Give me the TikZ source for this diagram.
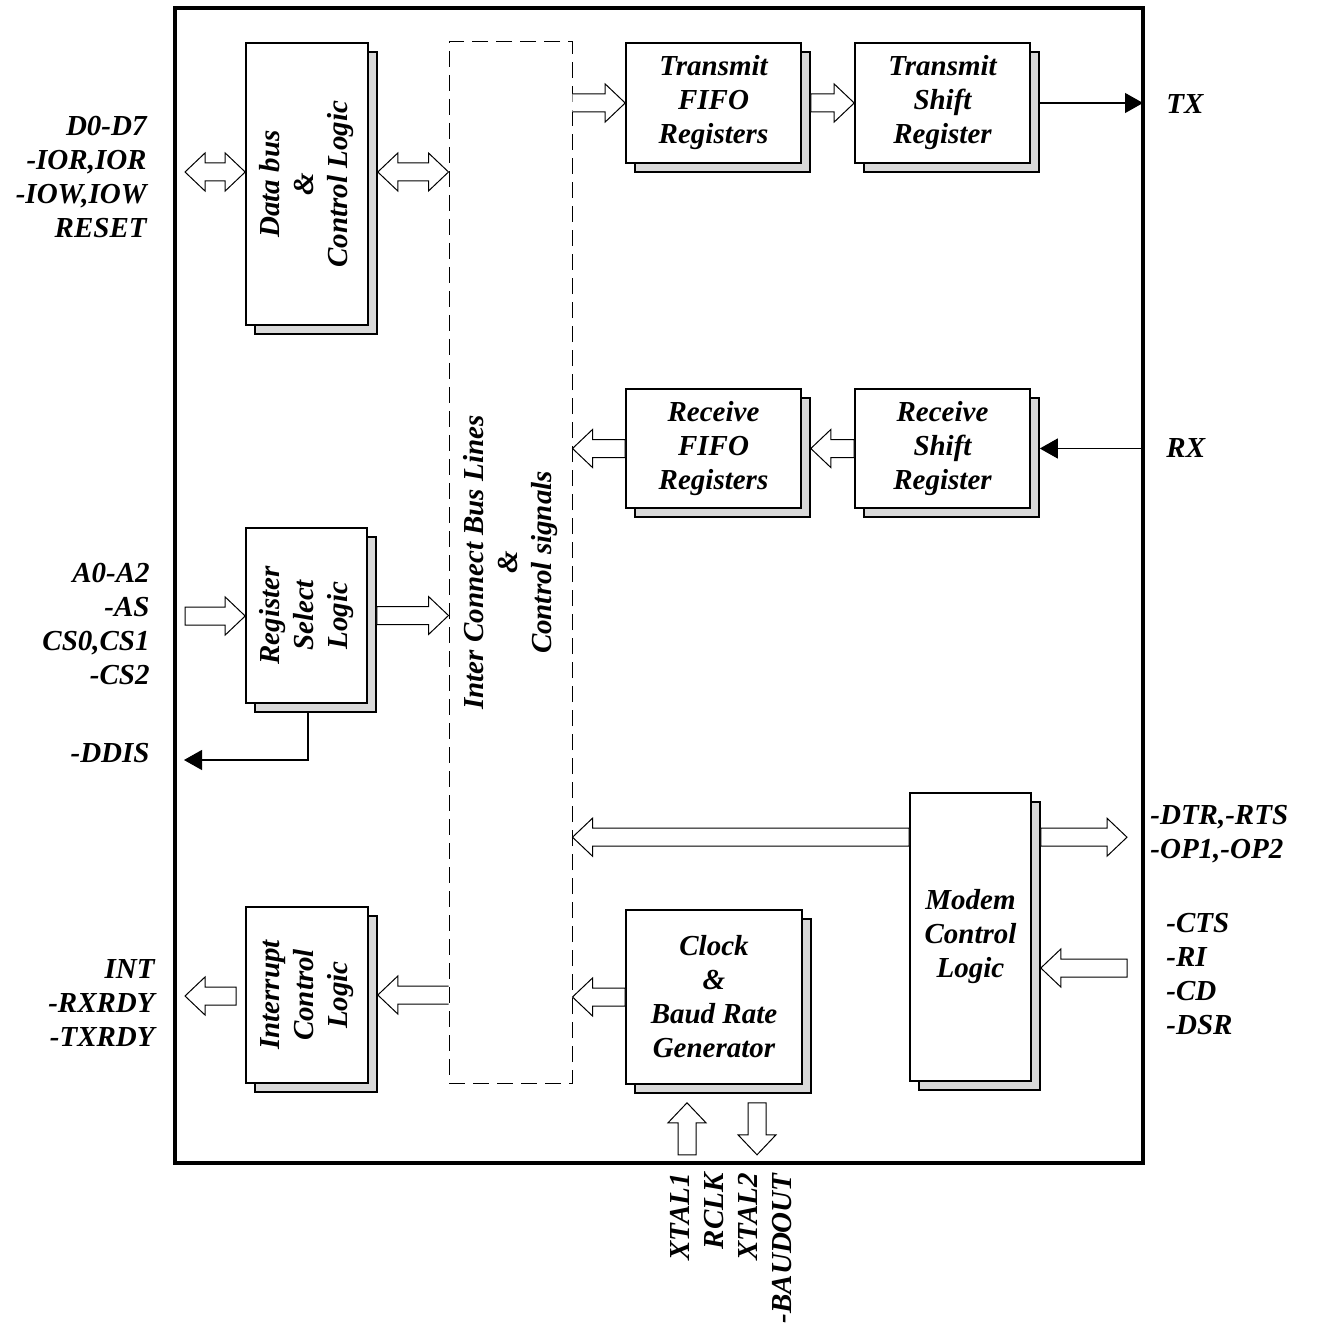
\documentclass[tikz,border=0pt]{standalone}
\usepackage{fontspec}
\setmainfont{Liberation Serif}
\usetikzlibrary{arrows.meta,calc}

% hollow block arrows
\newcommand\shw{4.5pt}
\newcommand\hdw{9.5pt}
\newcommand\hdlen{10pt}
\newcommand\bkarrow[2]{%
  \coordinate (ba) at (#1);
  \coordinate (bb) at (#2);
  \coordinate (bh) at ($(bb)!\hdlen!(ba)$);
  \filldraw[blockarrow] ($(ba)!\shw!90:(bb)$) -- ($(bh)!\shw!90:(bb)$) -- ($(bh)!\hdw!90:(bb)$) -- (bb)
    -- ($(bh)!\hdw!-90:(bb)$) -- ($(bh)!\shw!-90:(bb)$) -- ($(ba)!\shw!-90:(bb)$) -- cycle;}
\newcommand\opnarrow[2]{%
  \coordinate (ba) at (#1);
  \coordinate (bb) at (#2);
  \coordinate (bh) at ($(bb)!\hdlen!(ba)$);
  \fill[white] ($(ba)!\shw!90:(bb)$) -- ($(bh)!\shw!90:(bb)$) -- ($(bh)!\hdw!90:(bb)$) -- (bb)
    -- ($(bh)!\hdw!-90:(bb)$) -- ($(bh)!\shw!-90:(bb)$) -- ($(ba)!\shw!-90:(bb)$) -- cycle;
  \draw[blockarrow] ($(ba)!\shw!90:(bb)$) -- ($(bh)!\shw!90:(bb)$) -- ($(bh)!\hdw!90:(bb)$) -- (bb)
    -- ($(bh)!\hdw!-90:(bb)$) -- ($(bh)!\shw!-90:(bb)$) -- ($(ba)!\shw!-90:(bb)$);}
\newcommand\dblarrow[2]{%
  \coordinate (ba) at (#1);
  \coordinate (bb) at (#2);
  \coordinate (ha) at ($(ba)!\hdlen!(bb)$);
  \coordinate (bh) at ($(bb)!\hdlen!(ba)$);
  \filldraw[blockarrow] (ba) -- ($(ha)!\hdw!90:(bb)$) -- ($(ha)!\shw!90:(bb)$) -- ($(bh)!\shw!90:(bb)$)
    -- ($(bh)!\hdw!90:(bb)$) -- (bb) -- ($(bh)!\hdw!-90:(bb)$) -- ($(bh)!\shw!-90:(bb)$)
    -- ($(ha)!\shw!-90:(bb)$) -- ($(ha)!\hdw!-90:(bb)$) -- cycle;}

\tikzset{
  lbl/.style={font=\fontsize{14.5}{17}\selectfont\bfseries\itshape, align=center, inner sep=0pt},
  blk/.style={draw, fill=white, line width=0.8pt, lbl,
    preaction={draw, fill=black!15, transform canvas={shift={(4.5pt,-4.5pt)}}}},
  blockarrow/.style={draw, fill=white, line width=0.5pt},
  sig/.style={line width=0.6pt, -{Triangle[length=9pt,width=10pt]}},
}

\begin{document}
\begin{tikzpicture}[x=0.5pt, y=-0.5pt]
\useasboundingbox (0,0) rectangle (1317,1342);
\node[draw, line width=2pt, outer sep=0pt, minimum width=484pt, minimum height=577.5pt] (chip) at (659,585.5) {};
\node[draw, dash pattern=on 8pt off 4pt, line width=0.5pt, minimum width=61.5pt, minimum height=520.5pt] (bus) at (510.5,562.5) {};
\node[lbl, rotate=90] (bus-t) at (bus.center) {Inter Connect Bus Lines\\\&\\Control signals};

% blocks
\node[blk, minimum width=61pt, minimum height=141pt] (dbus) at (307,184) {};
\node[lbl, rotate=90] (dbus-t) at (dbus) {Data bus\\\&\\Control Logic};
\node[blk, minimum width=60.5pt, minimum height=87.5pt] (regsel) at (306.5,615.5) {};
\node[lbl, rotate=90] (regsel-t) at (regsel) {Register\\Select\\Logic};
\node[blk, minimum width=61pt, minimum height=88pt] (intr) at (307,995) {};
\node[lbl, rotate=90] (intr-t) at (intr) {Interrupt\\Control\\Logic};
\node[blk, minimum width=87.5pt, minimum height=60pt] (txfifo) at (713.5,103) {Transmit\\FIFO\\Registers};
\node[blk, minimum width=87.5pt, minimum height=60pt] (txshift) at (942.5,103) {Transmit\\Shift\\Register};
\node[blk, minimum width=87.5pt, minimum height=59.5pt] (rxfifo) at (713.5,448.5) {Receive\\FIFO\\Registers};
\node[blk, minimum width=87.5pt, minimum height=59.5pt] (rxshift) at (942.5,448.5) {Receive\\Shift\\Register};
\node[blk, minimum width=88pt, minimum height=87pt] (clock) at (714,997) {Clock\\\&\\Baud Rate\\Generator};
\node[blk, minimum width=60.5pt, minimum height=144pt] (modem) at (970.5,937) {Modem\\Control\\Logic};

% pins
\node[lbl, anchor=east, align=right] (dbus-p) at (147,177) {D0-D7\\-IOR,IOR\\-IOW,IOW\\RESET};
\node[lbl, anchor=east, align=right] (regsel-p) at (150,624) {A0-A2\\-AS\\CS0,CS1\\-CS2};
\node[lbl, anchor=east] (ddis-p) at (150,753) {-DDIS};
\node[lbl, anchor=east, align=right] (intr-p) at (155,1003) {INT\\-RXRDY\\-TXRDY};
\node[lbl, anchor=west] (tx-p) at (1166,104) {TX};
\node[lbl, anchor=west] (rx-p) at (1166,448) {RX};
\node[lbl, anchor=west, align=left] (mout-p) at (1150,834) {-DTR,-RTS\\-OP1,-OP2};
\node[lbl, anchor=west, align=left] (min-p) at (1166,974) {-CTS\\-RI\\-CD\\-DSR};
\node[lbl, rotate=90, anchor=east, align=right] (clock-p) at (731,1173) {XTAL1\\RCLK\\XTAL2\\-BAUDOUT};

% connections
\coordinate (dbl) at (185,172);
\dblarrow{dbl}{dbus.west |- dbl}
\dblarrow{$(dbus.east |- dbl)+(9,0)$}{bus.west |- dbl}
\opnarrow{bus.east |- txfifo.west}{txfifo.west}
\bkarrow{$(txfifo.east)+(9,0)$}{txshift.west}
\draw[sig] ($(txshift.east)+(9,0)$) -- (txshift.east -| chip.east);
\draw[sig] (rxshift.east -| chip.east) -- ($(rxshift.east)+(9,0)$);
\bkarrow{rxshift.west}{$(rxfifo.east)+(9,0)$}
\bkarrow{rxfifo.west}{bus.east |- rxfifo.west}
\coordinate (rsl) at (185,616);
\bkarrow{rsl}{regsel.west |- rsl}
\bkarrow{$(regsel.east)+(9,0)$}{bus.west |- regsel.east}
\coordinate (ddis) at (184,760);
\draw[sig] ($(regsel.south)+(1.5,9)$) |- (ddis);
\bkarrow{$(intr.west)+(-9,1)$}{$(intr.west -| chip.west)+(10,1)$}
\opnarrow{bus.west |- intr.east}{$(intr.east)+(9,0)$}
\coordinate (mbus) at ($(modem.north west)+(0,45)$);
\bkarrow{mbus}{bus.east |- mbus}
\bkarrow{$(mbus -| modem.east)+(9,0)$}{$(mbus -| chip.east)+(-16,0)$}
\coordinate (mctl) at ($(modem.east)+(0,31)$);
\bkarrow{$(mctl -| chip.east)+(-16,0)$}{$(mctl)+(9,0)$}
\bkarrow{clock.west}{bus.east |- clock.west}
\bkarrow{$(clock.south)+(-27,70)$}{$(clock.south)+(-27,18)$}
\bkarrow{$(clock.south)+(43,18)$}{$(clock.south)+(43,70)$}
\end{tikzpicture}
\end{document}
